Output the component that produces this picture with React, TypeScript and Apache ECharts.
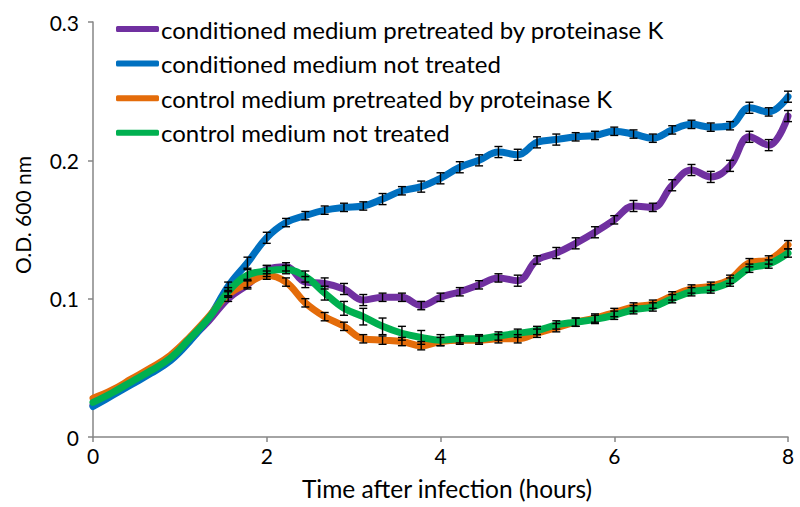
import React, { useEffect, useRef } from "react";
import * as echarts from "echarts";

const times = [0, 0.222, 0.444, 0.667, 0.889, 1.111, 1.333, 1.556, 1.778, 2, 2.222, 2.444, 2.667, 2.889, 3.111, 3.333, 3.556, 3.778, 4, 4.222, 4.444, 4.667, 4.889, 5.111, 5.333, 5.556, 5.778, 6, 6.222, 6.444, 6.667, 6.889, 7.111, 7.333, 7.556, 7.778, 8];

const seriesNames = [
  "conditioned medium pretreated by proteinase K",
  "conditioned medium not treated",
  "control medium pretreated by proteinase K",
  "control medium not treated",
];
const seriesColors = ["#7030A0", "#0070C0", "#E46C0A", "#00B050"];
const xTitle = "Time after infection (hours)";
const yTitle = "O.D. 600 nm";

const condPK = [0.023, 0.031, 0.039, 0.047, 0.056, 0.07, 0.084, 0.1, 0.11, 0.121, 0.123, 0.112, 0.111, 0.107, 0.099, 0.101, 0.101, 0.095, 0.101, 0.105, 0.11, 0.115, 0.113, 0.128, 0.133, 0.14, 0.148, 0.157, 0.167, 0.166, 0.182, 0.193, 0.188, 0.196, 0.217, 0.211, 0.232];
const condNT = [0.022, 0.03, 0.038, 0.046, 0.055, 0.069, 0.086, 0.109, 0.126, 0.144, 0.155, 0.16, 0.164, 0.166, 0.167, 0.172, 0.178, 0.181, 0.187, 0.195, 0.2, 0.206, 0.204, 0.213, 0.215, 0.217, 0.218, 0.221, 0.219, 0.216, 0.222, 0.226, 0.224, 0.225, 0.238, 0.235, 0.246];
const ctrlPK = [0.028, 0.034, 0.042, 0.05, 0.059, 0.072, 0.087, 0.103, 0.111, 0.117, 0.112, 0.097, 0.087, 0.08, 0.071, 0.07, 0.069, 0.066, 0.069, 0.07, 0.07, 0.071, 0.071, 0.075, 0.079, 0.083, 0.086, 0.09, 0.094, 0.096, 0.102, 0.107, 0.109, 0.114, 0.126, 0.128, 0.139];
const ctrlNT = [0.025, 0.032, 0.04, 0.048, 0.057, 0.071, 0.086, 0.105, 0.117, 0.12, 0.121, 0.116, 0.104, 0.093, 0.087, 0.08, 0.075, 0.072, 0.07, 0.071, 0.071, 0.073, 0.075, 0.077, 0.081, 0.083, 0.085, 0.088, 0.092, 0.094, 0.1, 0.105, 0.107, 0.112, 0.122, 0.125, 0.133];

const condPKErr = [0, 0, 0, 0, 0, 0, 0, 0.002, 0.003, 0.003, 0.003, 0.004, 0.004, 0.004, 0.004, 0.003, 0.003, 0.003, 0.003, 0.003, 0.003, 0.003, 0.004, 0.003, 0.004, 0.004, 0.004, 0.003, 0.004, 0.003, 0.004, 0.004, 0.004, 0.004, 0.004, 0.004, 0.004];
const condNTErr = [0, 0, 0, 0, 0, 0, 0, 0.003, 0.004, 0.004, 0.003, 0.003, 0.003, 0.003, 0.003, 0.004, 0.003, 0.004, 0.004, 0.004, 0.004, 0.004, 0.004, 0.004, 0.004, 0.003, 0.003, 0.003, 0.003, 0.003, 0.003, 0.003, 0.003, 0.003, 0.004, 0.003, 0.004];
const ctrlPKErr = [0, 0, 0, 0, 0, 0, 0, 0.002, 0.003, 0.003, 0.003, 0.003, 0.003, 0.003, 0.003, 0.003, 0.003, 0.003, 0.003, 0.003, 0.003, 0.003, 0.003, 0.003, 0.003, 0.003, 0.003, 0.003, 0.003, 0.003, 0.003, 0.003, 0.003, 0.003, 0.003, 0.003, 0.003];
const ctrlNTErr = [0, 0, 0, 0, 0, 0, 0, 0.003, 0.004, 0.004, 0.003, 0.004, 0.005, 0.005, 0.006, 0.006, 0.005, 0.005, 0.004, 0.003, 0.003, 0.003, 0.003, 0.003, 0.003, 0.003, 0.003, 0.003, 0.003, 0.003, 0.003, 0.003, 0.003, 0.003, 0.003, 0.003, 0.003];

const allValues = [condPK, condNT, ctrlPK, ctrlNT];
const allErrors = [condPKErr, condNTErr, ctrlPKErr, ctrlNTErr];

const FONT = "Lato";

export default function App() {
  const ref = useRef<HTMLDivElement>(null);
  useEffect(() => {
    if (!ref.current) return;
    const chart = echarts.init(ref.current, undefined, { renderer: "svg" });

    const lineSeries = allValues.map((vals, i) => ({
      name: seriesNames[i],
      type: "line",
      data: vals.map((v, k) => [times[k], v]),
      smooth: 0.4,
      showSymbol: false,
      symbol: "none",
      lineStyle: { width: 7, color: seriesColors[i], cap: "round" },
      itemStyle: { color: seriesColors[i] },
      z: 2,
    }));

    const errSeries = allValues.map((vals, i) => ({
      name: "err" + i,
      type: "custom",
      z: 3,
      data: vals.map((v, k) => [times[k], v, allErrors[i][k]]),
      encode: { x: 0, y: 1 },
      renderItem: (params: any, api: any) => {
        const x = api.value(0);
        const y = api.value(1);
        const e = api.value(2);
        if (!e) return null;
        const top = api.coord([x, y + e]);
        const bot = api.coord([x, y - e]);
        const hw = 4;
        const style = { stroke: "#000", lineWidth: 1.4 };
        return {
          type: "group",
          children: [
            { type: "line", shape: { x1: top[0], y1: top[1], x2: bot[0], y2: bot[1] }, style },
            { type: "line", shape: { x1: top[0] - hw, y1: top[1], x2: top[0] + hw, y2: top[1] }, style },
            { type: "line", shape: { x1: bot[0] - hw, y1: bot[1], x2: bot[0] + hw, y2: bot[1] }, style },
          ],
        };
      },
    }));

    chart.setOption({
      animation: false,
      backgroundColor: "#fff",
      textStyle: { fontFamily: FONT },
      grid: { left: 93, right: 12, top: 22, bottom: 70 },
      legend: {
        data: seriesNames.map((n) => ({ name: n, icon: "roundRect" })),
        orient: "vertical",
        left: 111,
        top: 12,
        itemWidth: 43,
        itemHeight: 6,
        itemGap: 10.6,
        selectedMode: false,
        textStyle: { fontSize: 24, fontFamily: FONT, color: "#000", lineHeight: 24, padding: [0, 0, 0, -3] },
      },
      graphic: [
        {
          type: "text",
          x: 447,
          y: 488,
          style: { text: xTitle, fontSize: 24.5, fontFamily: FONT, fill: "#000", align: "center", verticalAlign: "middle" },
        },
        {
          type: "text",
          x: 22,
          y: 215,
          rotation: Math.PI / 2,
          style: { text: yTitle, fontSize: 21, fontFamily: FONT, fill: "#000", align: "center", verticalAlign: "middle" },
        },
      ],
      xAxis: {
        type: "value",
        min: 0,
        max: 8,
        interval: 2,
        axisLine: { show: true, lineStyle: { color: "#868686", width: 1.5 } },
        axisTick: { show: true, length: 5, lineStyle: { color: "#868686", width: 1.5 } },
        axisLabel: { fontSize: 21, color: "#000", margin: 8, fontFamily: FONT },
        splitLine: { show: false },
      },
      yAxis: {
        type: "value",
        min: 0,
        max: 0.3,
        interval: 0.1,
        axisLine: { show: true, lineStyle: { color: "#868686", width: 1.5 } },
        axisTick: { show: true, length: 5, lineStyle: { color: "#868686", width: 1.5 } },
        axisLabel: {
          fontSize: 21,
          color: "#000",
          margin: 14,
          fontFamily: FONT,
          formatter: (v: number) => (v === 0 ? "0" : v.toFixed(1)),
        },
        splitLine: { show: false },
      },
      series: [...lineSeries, ...errSeries],
    });
    return () => chart.dispose();
  }, []);
  return <div ref={ref} style={{ width: 800, height: 507, position: "absolute", left: 0, top: 0 }} />;
}
